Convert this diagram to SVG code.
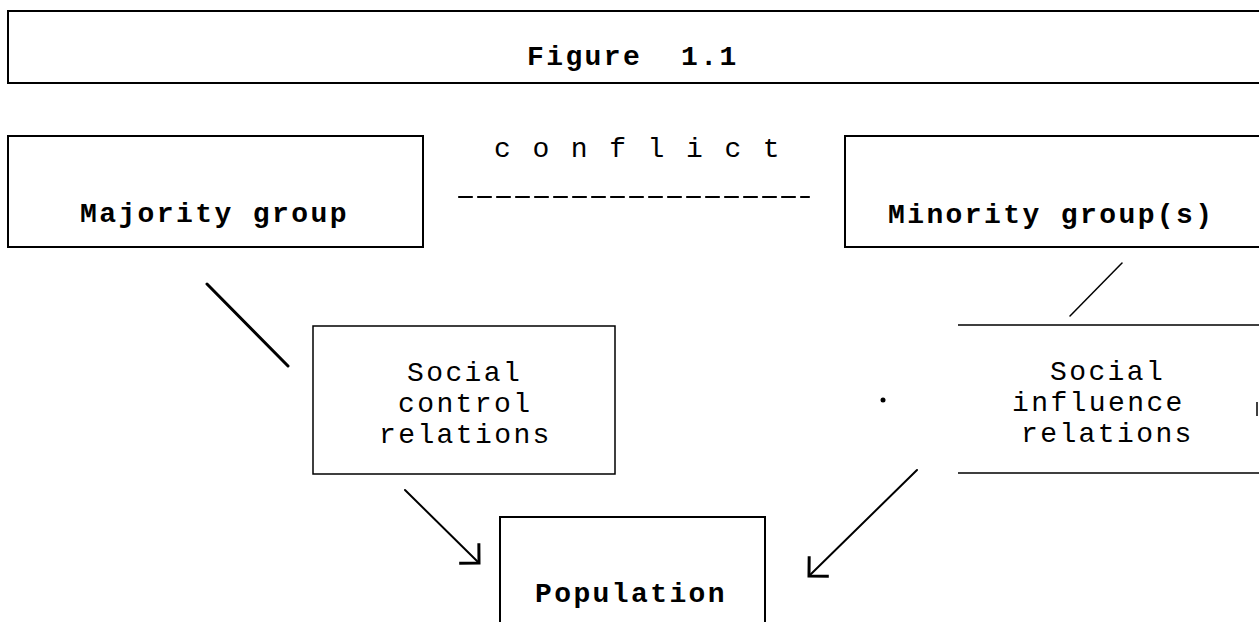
<svg xmlns="http://www.w3.org/2000/svg" width="1259" height="622" viewBox="0 0 1259 622">
  <style>
    .box { fill: none; stroke: #000; stroke-width: 2; }
    .thin { fill: none; stroke: #000; stroke-width: 1.5; }
    .t { font-family: "Liberation Mono", "Courier New", monospace; font-size: 28px; letter-spacing: 2.4px; fill: #000; }
    .b { font-weight: bold; }
    .conn { fill: none; stroke: #000; stroke-linecap: round; }
  </style>
  <defs>
    <marker id="arr" markerUnits="userSpaceOnUse" viewBox="-18 -18 22 36" refX="0" refY="0" markerWidth="22" markerHeight="36" orient="auto">
      <path d="M-14,-14 L0,0 L-14,14" fill="none" stroke="#000" stroke-width="3" stroke-linejoin="miter"/>
    </marker>
  </defs>
  <rect width="1259" height="622" fill="#fff"/>

  <g id="title">
    <path class="box" d="M1259,11 H8 V83 H1259" stroke-width="2.5"/>
    <text class="t b" y="65"><tspan x="527">Figure</tspan><tspan x="681">1.1</tspan></text>
  </g>

  <g id="majority">
    <path class="box" d="M8,136 H423 V247 H8 Z"/>
    <text class="t b" x="80" y="222">Majority group</text>
  </g>

  <g id="conflict-label">
    <text class="t" x="494" y="157" xml:space="preserve">c o n f l i c t</text>
  </g>

  <g id="minority">
    <path class="box" d="M1259,136 H845 V247 H1259"/>
    <text class="t b" x="888" y="223">Minority group(s)</text>
  </g>

  <g id="social-control">
    <path class="thin" d="M313,326 H615 V474 H313 Z"/>
    <text class="t" x="407" y="381">Social</text>
    <text class="t" x="398" y="412">control</text>
    <text class="t" x="379" y="443">relations</text>
  </g>

  <g id="social-influence">
    <path class="thin" d="M1259,325 H958 M958,473 H1259 M1257,402 V416"/>
    <text class="t" x="1050" y="380">Social</text>
    <text class="t" x="1012" y="411">influence</text>
    <text class="t" x="1021" y="442">relations</text>
    <circle cx="883" cy="400" r="2.5" fill="#000"/>
  </g>

  <g id="population">
    <path class="box" d="M500,622 V517 H765 V622"/>
    <text class="t b" x="535" y="602">Population</text>
  </g>

  <g id="connectors">
    <line class="conn" x1="459" y1="197" x2="809" y2="197" stroke-width="2.2" stroke-dasharray="13 6" stroke-linecap="butt"/>
    <line class="conn" x1="207" y1="284" x2="288" y2="366" stroke-width="3"/>
    <line class="conn" x1="1122" y1="263" x2="1070" y2="316" stroke-width="1.5"/>
    <line class="conn" x1="405" y1="490" x2="479" y2="563" stroke-width="2" marker-end="url(#arr)"/>
    <line class="conn" x1="917" y1="470" x2="809" y2="576" stroke-width="2" marker-end="url(#arr)"/>
  </g>
</svg>
